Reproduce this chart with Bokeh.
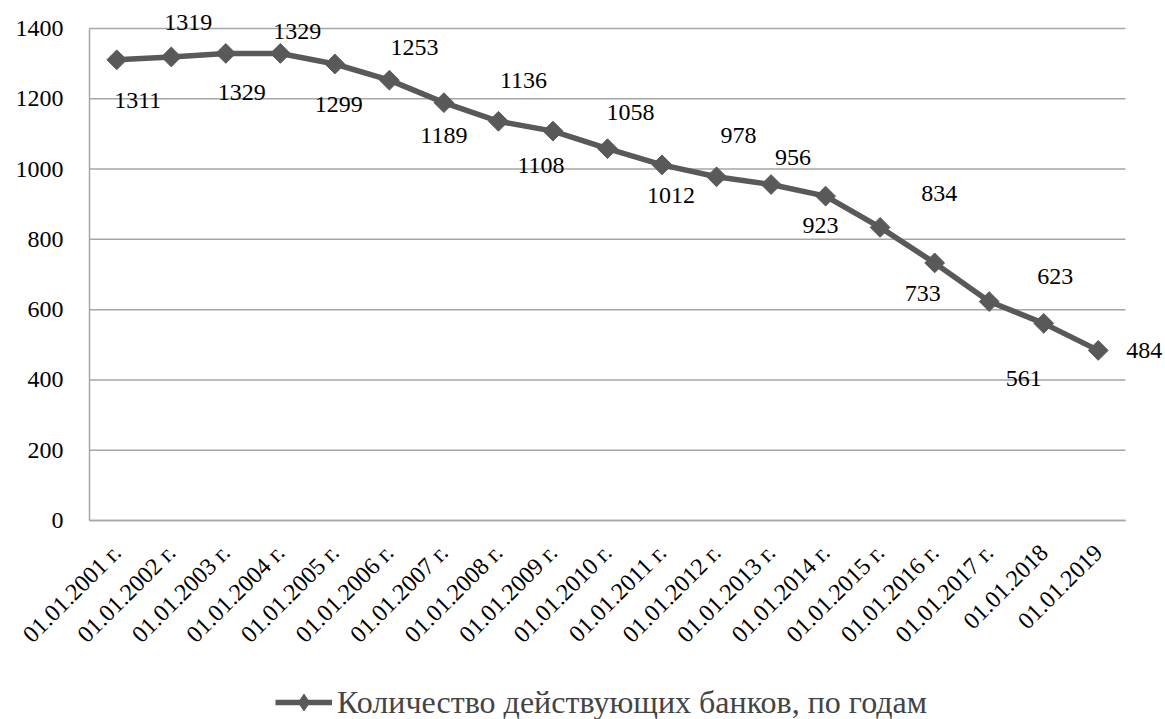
import math
from bokeh.plotting import figure
from bokeh.models import (ColumnDataSource, Range1d, FixedTicker,
                          LabelSet, Legend, LegendItem)
from bokeh.core.properties import value
from bokeh.embed import file_html
from bokeh.resources import INLINE

dates = ["01.01.2001 г.", "01.01.2002 г.", "01.01.2003 г.", "01.01.2004 г.",
         "01.01.2005 г.", "01.01.2006 г.", "01.01.2007 г.", "01.01.2008 г.",
         "01.01.2009 г.", "01.01.2010 г.", "01.01.2011 г.", "01.01.2012 г.",
         "01.01.2013 г.", "01.01.2014 г.", "01.01.2015 г.", "01.01.2016 г.",
         "01.01.2017 г.", "01.01.2018", "01.01.2019"]
banks = [1311, 1319, 1329, 1329, 1299, 1253, 1189, 1136, 1108, 1058,
         1012, 978, 956, 923, 834, 733, 623, 561, 484]
y_ticks = [0, 200, 400, 600, 800, 1000, 1200, 1400]
series_name = "Количество действующих банков, по годам"

# label placement offsets in screen pixels (right, down)
label_dx = [21, 17, 16, 17, 4, 25, 0, 25, -12, 23, 9, 22, 22, -5, 59, -12, 66, -20, 46]
label_dy = [41, -34, 39, -22, 41, -33, 33, -41, 34, -36, 31, -41, -27, 29, -34, 31, -25, 55, 0]

FONT = "Liberation Serif"
LINE_COLOR = "#595959"
GRID_COLOR = "#a6a6a6"

# layout (pixels, from top-left of the figure)
W, H = 1165, 719
AREA_LEFT, AREA_RIGHT = 89, 1125   # category area
AREA_TOP, AREA_BOTTOM = 28, 520    # 1400 .. 0

n = len(dates)
xs = list(range(n))
y_max = max(y_ticks)
cat_w = (AREA_RIGHT - AREA_LEFT) / n
x_lo = -0.5 - AREA_LEFT / cat_w
x_hi = x_lo + W / cat_w
ppu = (AREA_BOTTOM - AREA_TOP) / y_max
y_lo = -(H - AREA_BOTTOM) / ppu
y_hi = y_lo + H / ppu

src = ColumnDataSource(dict(
    x=xs, y=banks, txt=[str(v) for v in banks],
    dx=label_dx, dy=[-d for d in label_dy],
))

p = figure(width=W, height=H, output_backend="svg", toolbar_location=None,
           x_range=Range1d(x_lo, x_hi), y_range=Range1d(y_lo, y_hi),
           min_border=0)
p.outline_line_color = None
p.background_fill_color = "white"
p.border_fill_color = "white"
p.xgrid.grid_line_color = None
p.ygrid.grid_line_color = None

# horizontal gridlines limited to the category area
p.segment(x0=[-0.5] * len(y_ticks), x1=[n - 0.5] * len(y_ticks),
          y0=y_ticks, y1=y_ticks, line_color=GRID_COLOR, line_width=1.5)

line = p.line("x", "y", source=src, line_color=LINE_COLOR, line_width=5.5)
# legend symbol: a diamond on the first data point, hidden under its marker
legend_mark = p.scatter(x=xs[:1], y=banks[:1], marker="diamond", size=1,
                        fill_color=LINE_COLOR, line_color=LINE_COLOR)
marks = p.scatter("x", "y", source=src, marker="square", angle=math.pi / 4, size=14,
                  fill_color=LINE_COLOR, line_color=LINE_COLOR)

labels = LabelSet(x="x", y="y", text="txt", source=src, x_offset="dx", y_offset="dy",
                  text_align="center", text_baseline="middle",
                  text_font=value(FONT), text_font_size=value("24px"),
                  text_color=value("black"))
p.add_layout(labels)

p.yaxis.ticker = FixedTicker(ticks=y_ticks)
p.yaxis.bounds = (0, y_max)
p.yaxis.fixed_location = -0.5
p.xaxis.ticker = FixedTicker(ticks=xs)
p.xaxis.bounds = (-0.5, n - 0.5)
p.xaxis.fixed_location = 0
p.xaxis.major_label_overrides = {i: d for i, d in zip(xs, dates)}

for ax in (p.xaxis[0], p.yaxis[0]):
    ax.axis_line_color = GRID_COLOR
    ax.axis_line_width = 1.5
    ax.major_tick_line_color = None
    ax.minor_tick_line_color = None
    ax.major_label_text_font = FONT
    ax.major_label_text_font_size = "24px"
    ax.major_label_text_color = "black"

p.yaxis.major_label_standoff = 20
p.xaxis.major_label_orientation = math.pi / 4
p.xaxis.major_label_standoff = 22

legend = Legend(items=[LegendItem(label=series_name, renderers=[line, legend_mark])],
                location=(275, -4), orientation="horizontal",
                label_text_font=FONT, label_text_font_size="32px",
                glyph_width=57, glyph_height=42, label_standoff=5,
                margin=0, padding=0,
                border_line_color=None, background_fill_alpha=0)
p.add_layout(legend, "center")

open("out.html", "w").write(file_html(p, INLINE))
